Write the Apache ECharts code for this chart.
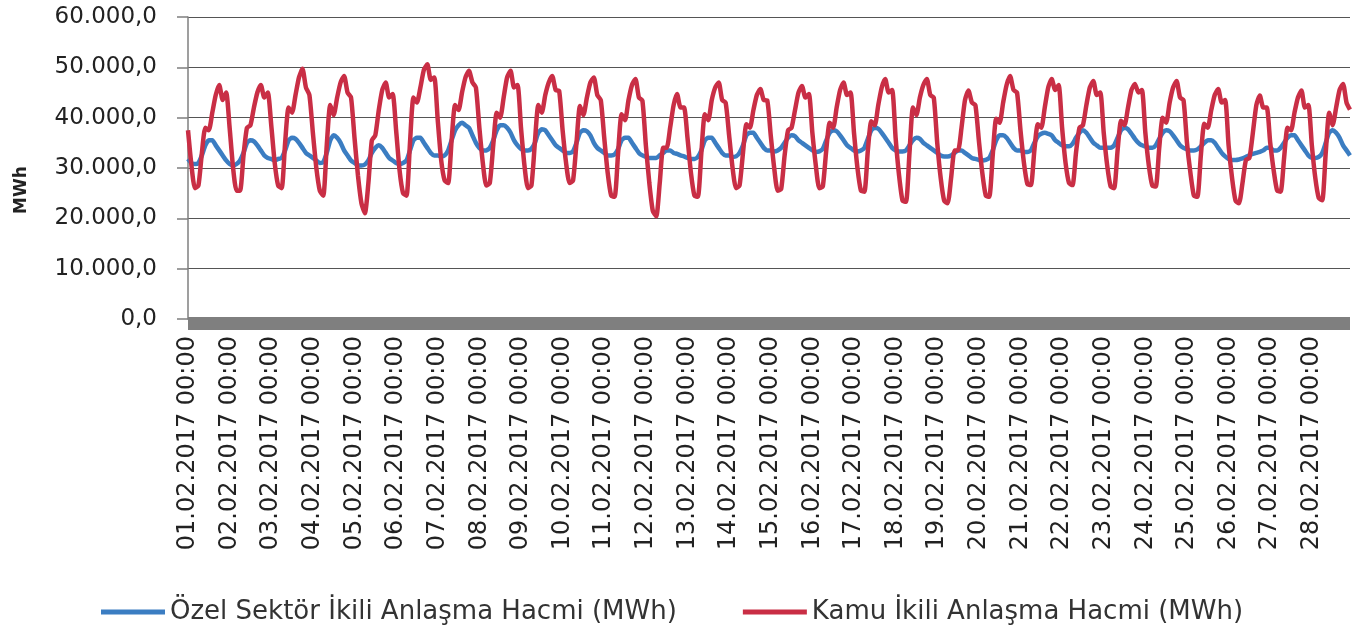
<!DOCTYPE html>
<html>
<head>
<meta charset="utf-8">
<script src="https://cdn.jsdelivr.net/npm/echarts@6/dist/echarts.min.js"></script>
<style>
html,body{margin:0;padding:0;background:#fff;}
#chart{width:1362px;height:631px;}
</style>
</head>
<body>
<div id="chart"></div>
<script>
// Day labels and 2-hourly time slots
const days = ['01.02.2017','02.02.2017','03.02.2017','04.02.2017','05.02.2017','06.02.2017','07.02.2017',
  '08.02.2017','09.02.2017','10.02.2017','11.02.2017','12.02.2017','13.02.2017','14.02.2017',
  '15.02.2017','16.02.2017','17.02.2017','18.02.2017','19.02.2017','20.02.2017','21.02.2017',
  '22.02.2017','23.02.2017','24.02.2017','25.02.2017','26.02.2017','27.02.2017','28.02.2017'];
const hours = ['00:00','02:00','04:00','06:00','08:00','10:00','12:00','14:00','16:00','18:00','20:00','22:00'];

const seriesNames = ['Özel Sektör İkili Anlaşma Hacmi (MWh)', 'Kamu İkili Anlaşma Hacmi (MWh)'];

// Özel Sektör (blue), MWh, 12 values per day
const ozelSektor = [
  31800,31000,30800,31000,32500,34500,35500,35500,34500,33500,32500,31500,
  30800,30500,30800,31500,33000,35000,35500,35300,34500,33500,32500,32000,
  31800,31500,31800,32000,33500,35500,36000,35800,35000,34000,33000,32500,
  32000,31500,31000,31200,33000,35500,36500,36000,35000,33500,32500,31500,
  31000,30500,30500,30700,31500,33000,34000,34500,34000,33000,32000,31500,
  31000,30800,31000,31500,33500,35500,36000,36000,35000,34000,33000,32500,
  32500,32300,32500,33500,35500,37500,38500,39000,38500,38000,36500,35000,
  34000,33500,33500,34000,35500,37500,38500,38500,38000,37000,35500,34500,
  33800,33500,33500,33800,35000,37000,37700,37500,36500,35500,34500,34000,
  33500,33000,33000,33300,35000,37000,37500,37300,36500,35000,34000,33500,
  33000,32500,32500,32700,33800,35500,36000,36000,35000,34000,33000,32500,
  32200,32000,32000,32000,32500,33000,33500,33500,33000,32800,32500,32300,
  32000,31800,31800,32200,33500,35500,36000,36000,35000,34000,33000,32500,
  32500,32200,32300,33000,34500,36500,37000,37000,36000,35000,34000,33500,
  33500,33300,33500,34000,35000,36000,36500,36300,35500,35000,34500,34000,
  33500,33200,33300,33800,35500,37000,37500,37300,36500,35500,34500,34000,
  33500,33300,33500,34000,35800,37500,38000,37800,37000,36000,35000,34000,
  33500,33300,33300,33500,34500,35500,36000,35800,35000,34500,34000,33500,
  33000,32500,32300,32300,32500,33000,33500,33500,33000,32500,32000,31800,
  31600,31500,31600,32000,33500,35500,36500,36500,36000,35000,34000,33500,
  33500,33200,33200,33500,35000,36300,36800,37000,36800,36500,35500,35000,
  34500,34300,34300,34800,36000,37000,37500,37000,36000,35000,34500,34000,
  34000,34000,34000,34500,36000,37500,38000,37700,36800,35800,35000,34500,
  34300,34000,34000,34500,35800,37000,37500,37300,36500,35500,34500,34000,
  33700,33500,33500,33700,34300,35000,35500,35500,35000,34000,33000,32300,
  31800,31600,31600,31700,31900,32200,32500,32800,33000,33200,33500,34000,
  34000,33500,33500,34000,35000,36000,36500,36500,35500,34500,33500,32500,
  32000,32000,32200,33000,35000,37000,37500,37000,36000,34500,33500,32500
];

// Kamu (red), MWh, 12 values per day
const kamu = [
  37500,30500,26000,26500,33000,38000,37500,41000,44500,46500,43500,45000,
  38000,30000,25500,25500,32500,38000,38500,42000,45000,46500,44000,45000,
  38500,31000,26500,26000,35000,42000,41000,44500,48000,49700,46000,44500,
  37000,30000,25500,24500,34500,42500,40500,44000,47000,48300,45000,44000,
  36000,28500,23000,21000,27000,35500,36500,41500,45500,47000,44000,44700,
  37500,29500,25000,24500,35000,44000,43000,46000,49500,50600,47500,48000,
  39500,31500,27500,27000,35500,42500,41500,45000,48000,49300,47000,46000,
  38000,31000,26500,27000,34500,41000,40000,44000,48000,49300,46000,46500,
  38000,30500,26000,26500,35000,42500,41000,44500,47000,48300,45500,45300,
  37500,31000,27000,27500,35000,42300,40500,44000,47000,48000,44500,43500,
  36000,29000,24500,24300,33000,40700,39500,43500,46500,47700,44000,43400,
  34500,27000,21500,20400,27000,34000,34000,38000,42500,44700,42000,42000,
  36000,29000,24500,24300,33000,40700,39500,43500,46000,47000,43500,43000,
  36500,30000,26000,26500,33000,38700,38000,41500,44500,45700,43500,43400,
  36500,30000,25500,25800,32500,37500,38000,41500,45000,46300,44000,44700,
  37000,30500,26000,26300,33500,39000,38000,42000,45500,47000,44500,45000,
  37000,30000,25500,25300,33500,39300,38500,42500,46000,47700,45000,45500,
  36000,28500,23500,23300,33000,42000,40500,44000,46500,47700,44500,44000,
  35000,28000,23500,23000,28000,33500,33500,38000,43500,45400,43000,42500,
  35500,29000,24500,24300,32500,39800,39000,43000,46500,48300,45500,45000,
  37500,31000,26800,26600,33500,38700,38000,42000,46000,47700,45500,46500,
  38000,31000,27000,26600,33000,38000,38500,42500,46000,47300,44500,45000,
  37000,30500,26300,26000,33500,39400,38500,42000,45500,46700,45000,45500,
  37000,30500,26500,26300,34000,40000,39000,43000,46000,47300,44000,43500,
  35000,29000,24500,24300,32500,38800,38000,41500,44500,45700,43000,43500,
  34500,28000,23500,23000,27000,31600,32000,37000,42500,44400,42000,42000,
  35000,29500,25500,25300,32000,38000,37500,41000,44000,45400,42000,42500,
  34500,28000,24000,23600,33000,41000,38500,42000,45500,46700,43000,41600
];

const categories = [];
days.forEach(d => hours.forEach(h => categories.push(d + ' ' + h)));

function fmtTR(v) {
  const s = Math.round(v).toString().replace(/\B(?=(\d{3})+(?!\d))/g, '.');
  return s + ',0';
}

const chart = echarts.init(document.getElementById('chart'), null, {renderer: 'canvas'});
chart.setOption({
  animation: false,
  backgroundColor: '#ffffff',
  grid: {left: 188, right: 12, top: 17, bottom: 312, containLabel: false},
  legend: {
    data: seriesNames,
    left: 96,
    top: 594,
    icon: 'rect',
    itemWidth: 64,
    itemHeight: 5,
    itemGap: 66,
    textStyle: {fontFamily: 'DejaVu Sans', fontSize: 26, color: '#333'}
  },
  xAxis: {
    type: 'category',
    data: categories,
    boundaryGap: false,
    offset: 4,
    axisLine: {show: true, onZero: false, lineStyle: {color: '#7f7f7f', width: 13, cap: 'butt'}},
    axisTick: {show: false},
    axisLabel: {
      interval: 11,
      rotate: 90,
      margin: 13,
      fontFamily: 'DejaVu Sans',
      fontSize: 24,
      color: '#222'
    },
    splitLine: {show: false}
  },
  yAxis: {
    type: 'value',
    min: 0,
    max: 60000,
    interval: 10000,
    name: 'MWh',
    nameLocation: 'middle',
    nameGap: 158,
    nameTextStyle: {fontFamily: 'DejaVu Sans', fontSize: 17, fontWeight: 'bold', color: '#222', padding: [0, 44, 0, 0]},
    axisLine: {show: true, lineStyle: {color: '#7f7f7f', width: 1.5}},
    axisTick: {show: true, length: 11, lineStyle: {color: '#7f7f7f', width: 1.5}},
    axisLabel: {
      margin: 31,
      fontFamily: 'DejaVu Sans',
      fontSize: 23,
      color: '#222',
      formatter: fmtTR
    },
    splitLine: {show: true, lineStyle: {color: '#555', width: 1.2}}
  },
  series: [
    {
      name: seriesNames[0],
      type: 'line',
      data: ozelSektor,
      showSymbol: false,
      smooth: 0.2,
      lineStyle: {color: '#3B7DC2', width: 4.5},
      itemStyle: {color: '#3B7DC2'}
    },
    {
      name: seriesNames[1],
      type: 'line',
      data: kamu,
      showSymbol: false,
      smooth: 0.2,
      lineStyle: {color: '#C92E45', width: 4.5},
      itemStyle: {color: '#C92E45'}
    }
  ]
});
</script>
</body>
</html>
